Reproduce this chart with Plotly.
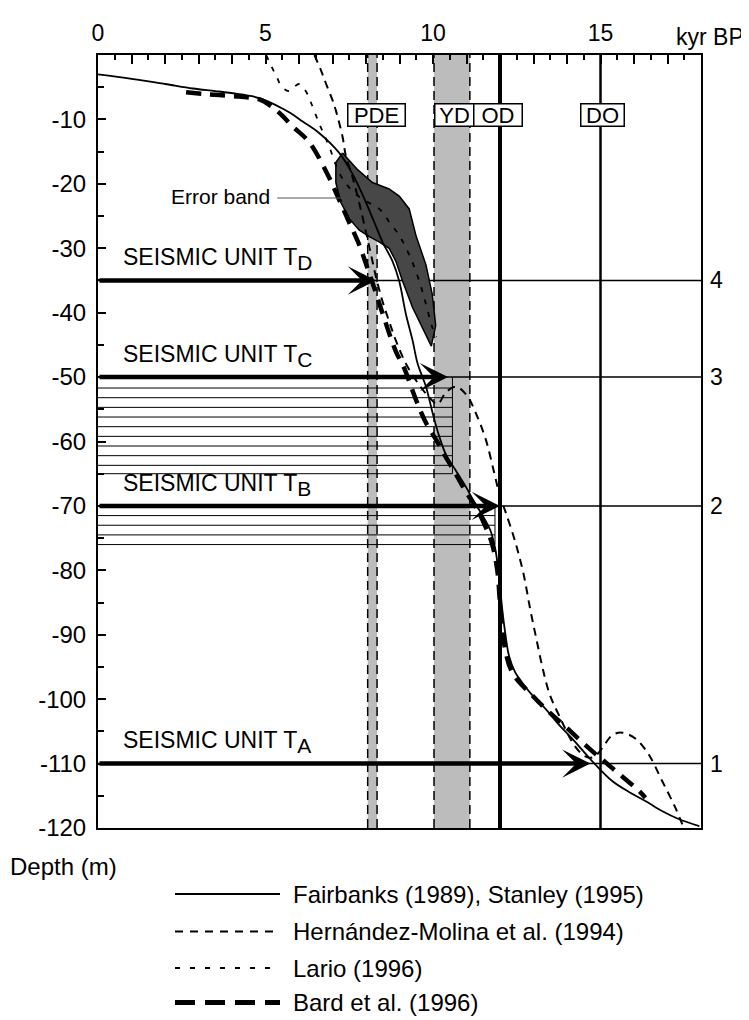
import plotly.graph_objects as go

# ---------------- data ----------------
fair_age = [0, 1.0, 2.0, 2.83, 3.5, 4.12, 4.6, 4.92, 5.2, 5.5, 5.8, 6.1, 6.6, 7.2, 7.6, 8.0, 8.25,
            8.49, 8.79, 8.99, 9.19, 9.39, 9.54, 9.79, 10.0, 10.18, 10.4, 10.68, 11.0, 11.22, 11.47,
            11.72, 11.87, 11.97, 12.07, 12.15, 12.27, 12.45, 12.66, 13.0, 13.36, 13.75, 14.15,
            14.75, 15.35, 15.85, 16.34, 16.85, 17.33, 17.95]
fair_depth = [-3.0, -3.7, -4.5, -5.2, -5.6, -6.0, -6.4, -6.9, -7.5, -8.3, -9.2, -10.3, -12.1, -15.2,
              -18.5, -22.9, -26.0, -29.0, -32.0, -35.1, -40.2, -44.3, -47.9, -51.5, -55.8, -59.1,
              -62.2, -64.5, -67.2, -69.3, -71.4, -73.9, -77.0, -81.0, -86.2, -89.5, -93.3, -95.8,
              -97.4, -99.6, -101.5, -103.9, -106.1, -109.6, -112.7, -114.4, -115.8, -117.4,
              -118.6, -119.7]

hern_age = [6.46, 6.65, 6.81, 7.0, 7.1, 7.3, 7.4, 7.6, 7.8, 8.0, 8.15, 8.3, 8.49, 8.7, 8.89, 9.2,
            9.6, 9.9, 10.13, 10.4, 10.7, 11.03, 11.27, 11.57, 11.82, 12.0, 12.17, 12.45, 12.7,
            12.9, 13.1, 13.3, 13.5, 13.76, 14.15, 14.4, 14.65, 14.85, 15.05, 15.35, 15.64, 16.04,
            16.44, 16.84, 17.23, 17.48]
hern_depth = [0, -2.3, -4.5, -7.0, -8.6, -12.7, -15.7, -19.0, -23.0, -27.5, -31.0, -34.5, -38.2,
              -41.5, -44.3, -48.0, -51.3, -53.2, -54.2, -52.3, -51.5, -53.0, -55.5, -59.6, -64.7,
              -68.5, -71.0, -75.5, -80.5, -86.0, -91.0, -95.8, -99.5, -102.5, -106.6, -108.3,
              -109.1, -108.8, -107.6, -105.6, -105.2, -106.1, -108.6, -112.7, -116.8, -119.9]

lario_age = [5.02, 5.2, 5.35, 5.5, 5.7, 5.85, 6.0, 6.2, 6.35, 6.6, 6.9, 7.2, 7.5, 7.9, 8.4, 8.69,
             8.99, 9.29, 9.59, 9.79, 9.98, 10.1]
lario_depth = [0, -2.0, -3.6, -5.0, -5.6, -5.0, -4.5, -5.6, -7.3, -10.6, -14.2, -18.3, -20.6,
               -22.4, -23.9, -25.9, -28.0, -31.0, -35.1, -38.7, -42.3, -43.8]

bard_age = [2.63, 3.3, 4.07, 4.5, 4.82, 5.21, 5.5, 5.81, 6.3, 6.85, 7.2, 7.5, 7.8, 8.05, 8.3, 8.5,
            8.89, 9.14, 9.49, 9.79, 10.1, 10.38, 10.7, 10.98, 11.27, 11.55, 11.77, 11.92, 12.0,
            12.12, 12.37, 12.96, 13.4, 13.9, 14.65, 15.35, 16.14, 16.34]
bard_depth = [-5.8, -6.1, -6.4, -6.6, -6.9, -8.1, -9.4, -11.1, -13.5, -18.5, -22.5, -26.0, -29.5,
              -33.2, -37.0, -40.2, -46.0, -48.6, -53.5, -57.1, -59.8, -62.4, -65.2, -67.8, -70.1,
              -73.0, -76.0, -80.0, -85.0, -91.3, -95.9, -99.4, -101.7, -104.0, -107.6, -110.7,
              -114.2, -115.3]

band_age = [7.3, 7.75, 8.19, 8.69, 8.99, 9.29, 9.49, 9.79, 9.98, 10.08, 9.95, 9.6, 9.39, 9.09,
            8.89, 8.69, 8.39, 8.1, 7.8, 7.5, 7.25, 7.1, 7.1, 7.3]
band_depth = [-15.2, -17.8, -19.8, -20.8, -21.9, -23.9, -28.0, -32.6, -37.2, -42.0, -45.2, -41.5,
              -39.2, -35.1, -32.0, -30.0, -29.0, -28.2, -27.2, -25.4, -22.9, -19.8, -16.7, -15.2]

unit_depths = [-35, -50, -70, -110]
unit_letters = ["D", "C", "B", "A"]
unit_numbers = ["4", "3", "2", "1"]
unit_arrow_tips = [8.3, 10.45, 12.0, 14.7]

hatch_c_depths = [-51.7, -53.2, -54.7, -56.2, -57.7, -59.2, -60.7, -62.2, -63.7, -65.0]
hatch_c_end = 10.58
hatch_b_depths = [-71.5, -73.0, -74.5, -76.0]
hatch_b_end = 11.85

band_events = [("PDE", 8.05, 8.33), ("YD", 10.03, 11.1)]
line_events = [("OD", 12.0), ("DO", 15.0)]
event_label_names = ["PDE", "YD", "OD", "DO"]
event_label_x = [8.30, 10.63, 11.95, 15.07]
event_label_y = -9.34

x_label_vals = [0, 5, 10, 15]
x_label_text = ["0", "5", "10", "15"]
x_int_ticks = list(range(0, 19))
y_tick_vals = [-10, -20, -30, -40, -50, -60, -70, -80, -90, -100, -110, -120]
y_tick_text = ["-10", "-20", "-30", "-40", "-50", "-60", "-70", "-80", "-90", "-100", "-110",
               "-120"]

legend_names = ["Fairbanks (1989), Stanley (1995)", "Hernández-Molina et al. (1994)",
                "Lario (1996)", "Bard et al. (1996)"]

# ---------------- layout helpers ----------------
PAGE_W, PAGE_H = 749, 1020
BODY_MARGIN = 8  # default page margin around the plot div
W, H = PAGE_W - BODY_MARGIN, PAGE_H - BODY_MARGIN
# plot area in page pixels
PL, PR, PT, PB = 98, 701, 44, 828
FONT = "Liberation Sans, Arial, sans-serif"


def px_x(p):
    return (p - PL) / (PR - PL)


def px_y(p):
    return (PB - p) / (PB - PT)


styles = {
    "fair": dict(color="black", width=1.8, dash="solid"),
    "hern": dict(color="black", width=2.0, dash="8px,6px"),
    "lario": dict(color="black", width=1.8, dash="5px,8px"),
    "bard": dict(color="black", width=4.5, dash="15px,9px"),
}

fig = go.Figure()

shapes = []
for name, a0, a1 in band_events:
    shapes.append(dict(type="rect", xref="x", yref="y", x0=a0, x1=a1, y0=-120, y1=0,
                       fillcolor="#bcbcbc", line=dict(width=0), layer="below"))
    for a in (a0, a1):
        shapes.append(dict(type="line", xref="x", yref="y", x0=a, x1=a, y0=-120, y1=0,
                           line=dict(color="black", width=1.5, dash="9px,5px"), layer="below"))
for (name, a), w in zip(line_events, [4, 2.5]):
    shapes.append(dict(type="line", xref="x", yref="y", x0=a, x1=a, y0=-120, y1=0,
                       line=dict(color="black", width=w), layer="below"))
for d in hatch_c_depths:
    shapes.append(dict(type="line", xref="x", yref="y", x0=0, x1=hatch_c_end, y0=d, y1=d,
                       line=dict(color="black", width=1), layer="below"))
shapes.append(dict(type="line", xref="x", yref="y", x0=hatch_c_end, x1=hatch_c_end,
                   y0=unit_depths[1], y1=hatch_c_depths[-1],
                   line=dict(color="black", width=1), layer="below"))
for d in hatch_b_depths:
    shapes.append(dict(type="line", xref="x", yref="y", x0=0, x1=hatch_b_end, y0=d, y1=d,
                       line=dict(color="black", width=1), layer="below"))
shapes.append(dict(type="line", xref="x", yref="y", x0=hatch_b_end, x1=hatch_b_end,
                   y0=unit_depths[2], y1=hatch_b_depths[-1],
                   line=dict(color="black", width=1), layer="below"))
for d in unit_depths:
    shapes.append(dict(type="line", xref="x", yref="y", x0=0, x1=18, y0=d, y1=d,
                       line=dict(color="black", width=1.5), layer="below"))
shapes.append(dict(type="line", xref="x", yref="y", x0=5.35, x1=7.3, y0=-22.2, y1=-22.2,
                   line=dict(color="#555555", width=1.2)))

fig.add_trace(go.Scatter(x=band_age, y=band_depth, mode="lines", fill="toself",
                         fillcolor="#474747", line=dict(color="black", width=1.5),
                         hoverinfo="skip", showlegend=False))
for (ax, dp, key) in [(fair_age, fair_depth, "fair"), (hern_age, hern_depth, "hern"),
                      (lario_age, lario_depth, "lario"), (bard_age, bard_depth, "bard")]:
    fig.add_trace(go.Scatter(x=ax, y=dp, mode="lines", line=styles[key], showlegend=False,
                             line_shape="spline"))
# helper trace on the overlay axis carrying the integer ticks
fig.add_trace(go.Scatter(x=[0, 18], y=[-130, -130], mode="lines", xaxis="x2",
                         line=dict(width=0), hoverinfo="skip", showlegend=False))

annotations = []
for d, tip in zip(unit_depths, unit_arrow_tips):
    annotations.append(dict(x=tip, y=d, ax=0, ay=d, xref="x", yref="y", axref="x", ayref="y",
                            text="", showarrow=True, arrowhead=3, arrowsize=1.05,
                            arrowwidth=4.5, arrowcolor="black"))
for d, letter in zip(unit_depths, unit_letters):
    annotations.append(dict(x=0.7, y=d + 3.3, xref="x", yref="y", xanchor="left",
                            yanchor="middle", showarrow=False,
                            text="SEISMIC UNIT T<sub><span style='font-size:21px'>" + letter
                                 + "</span></sub>",
                            font=dict(family=FONT, size=23, color="black")))
for d, n in zip(unit_depths, unit_numbers):
    annotations.append(dict(x=18, y=d, xref="x", yref="y", xanchor="left", yanchor="middle",
                            xshift=7, showarrow=False, text=n,
                            font=dict(family=FONT, size=23, color="black")))
for name, xc, wbox in zip(event_label_names, event_label_x, [56, 38, 47, 42]):
    annotations.append(dict(x=xc, y=event_label_y, xref="x", yref="y", xanchor="center",
                            yanchor="middle", showarrow=False, text=name, width=wbox,
                            height=21, bgcolor="white", bordercolor="black", borderwidth=1.5,
                            borderpad=0, font=dict(family=FONT, size=22, color="black")))
annotations.append(dict(x=5.2, y=-22.0, xref="x", yref="y", xanchor="right", yanchor="middle",
                        showarrow=False, text="Error band",
                        font=dict(family=FONT, size=21, color="black")))
annotations.append(dict(x=px_x(746), y=px_y(26), xref="paper", yref="paper", xanchor="right",
                        yanchor="middle", showarrow=False, text="kyr BP",
                        font=dict(family=FONT, size=23, color="black")))
annotations.append(dict(x=px_x(8), y=px_y(867), xref="paper", yref="paper", xanchor="left",
                        yanchor="middle", showarrow=False, text="Depth (m)",
                        font=dict(family=FONT, size=24, color="black")))
legend_rows = [895, 933, 970, 1005]
legend_styles = [dict(color="black", width=2, dash="solid"),
                 dict(color="black", width=2, dash="8px,7px"),
                 dict(color="black", width=2, dash="5px,10px"),
                 dict(color="black", width=5, dash="20px,10px")]
for row, name, st in zip(legend_rows, legend_names, legend_styles):
    shapes.append(dict(type="line", xref="paper", yref="paper", x0=px_x(175), x1=px_x(280),
                       y0=px_y(row), y1=px_y(row), line=st))
    annotations.append(dict(x=px_x(291), y=px_y(row), xref="paper", yref="paper",
                            xanchor="left", yanchor="middle", showarrow=False, text=name,
                            font=dict(family=FONT, size=24, color="black")))

fig.update_layout(
    width=W, height=H,
    margin=dict(l=PL - BODY_MARGIN, r=PAGE_W - PR, t=PT - BODY_MARGIN, b=PAGE_H - PB, pad=0),
    paper_bgcolor="white", plot_bgcolor="white",
    shapes=shapes, annotations=annotations,
    font=dict(family=FONT, size=23, color="black"),
    showlegend=False,
    xaxis=dict(range=[0, 18], side="top", showline=True, linecolor="black", linewidth=2,
               mirror=True, showgrid=False, zeroline=False, ticks="inside", ticklen=9,
               tickwidth=1.5, tickcolor="black", tickmode="array", tickvals=x_label_vals,
               ticktext=x_label_text, tickfont=dict(family=FONT, size=23),
               ticklabelstandoff=3,
               minor=dict(ticks="inside", ticklen=5, tickwidth=1.5, tickcolor="black",
                          tickmode="linear", tick0=0, dtick=0.5, showgrid=False)),
    xaxis2=dict(range=[0, 18], overlaying="x", side="top", showline=False, showgrid=False,
                zeroline=False, ticks="inside", ticklen=9, tickwidth=1.5, tickcolor="black",
                tickmode="array", tickvals=x_int_ticks, showticklabels=False),
    yaxis=dict(range=[-120, 0], showline=True, linecolor="black", linewidth=2, mirror=True,
               showgrid=False, zeroline=False, ticks="inside", ticklen=8, tickwidth=1.5,
               tickcolor="black", tickmode="array", tickvals=y_tick_vals, ticktext=y_tick_text,
               tickfont=dict(family=FONT, size=24), ticklabelstandoff=5,
               minor=dict(ticks="inside", ticklen=6, tickwidth=1.5, tickcolor="black",
                          tickmode="linear", tick0=0, dtick=5, showgrid=False)),
)

fig.write_html("out.html")
